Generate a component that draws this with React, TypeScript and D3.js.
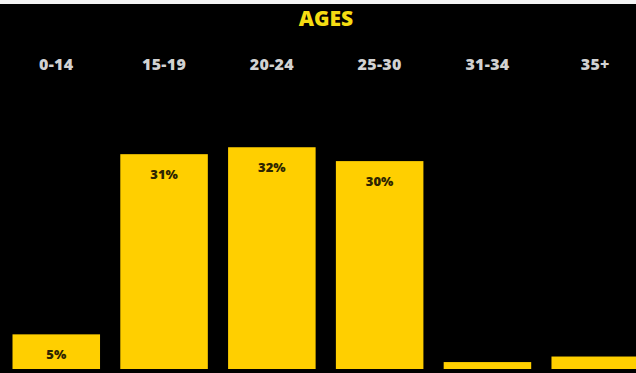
import React from "react";
import * as d3 from "d3";

const categories = ["0-14", "15-19", "20-24", "25-30", "31-34", "35+"];
const values = [5, 31, 32, 30, 1, 1.8];
const valueLabels = ["5%", "31%", "32%", "30%", "", ""];
const title = "AGES";

const W = 636;
const H = 373;

export default function App() {
  const x = d3
    .scaleBand<string>()
    .domain(categories)
    .range([12.5, 639])
    .paddingInner(0.188)
    .paddingOuter(0);
  const y = d3.scaleLinear().domain([0, 100]).range([369, 369 - 693]);
  const font = "'Open Sans', sans-serif";
  return (
    <svg
      width={W}
      height={H}
      style={{ position: "absolute", left: 0, top: 0, display: "block" }}
    >
      <rect x={0} y={0} width={W} height={H} fill="#000" />
      <rect x={0} y={0} width={W} height={4} fill="#f4f4f4" />
      <text
        x={326}
        y={26}
        textAnchor="middle"
        fontFamily={font}
        fontWeight={800}
        fontSize={21}
        fill="#f5dc12"
      >
        {title}
      </text>
      {categories.map((c, i) => {
        const bx = x(c)!;
        const bw = x.bandwidth();
        const cx = bx + bw / 2;
        const top = y(values[i]);
        return (
          <g key={c}>
            <text
              x={cx}
              y={70}
              textAnchor="middle"
              fontFamily={font}
              fontWeight={800}
              fontSize={16}
              letterSpacing={0.3}
              fill="#d2d2d2"
            >
              {c}
            </text>
            <rect x={bx} y={top} width={bw} height={y(0) - top} fill="#ffcf00" />
            {valueLabels[i] && (
              <text
                x={cx}
                y={top + 25}
                textAnchor="middle"
                fontFamily={font}
                fontWeight={800}
                fontSize={13}
                fill="#2e2500"
              >
                {valueLabels[i]}
              </text>
            )}
          </g>
        );
      })}
    </svg>
  );
}
